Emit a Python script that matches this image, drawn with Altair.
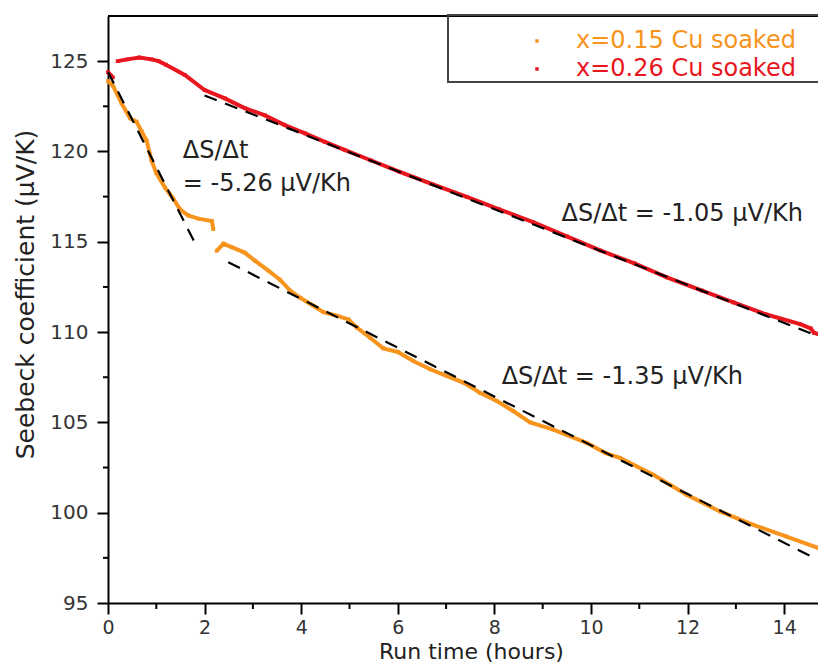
import altair as alt
import pandas as pd

# ---------------- data ----------------
series_names = ["x=0.15 Cu soaked", "x=0.26 Cu soaked"]
series_colors = ["#F7941D", "#E8161E"]

# x=0.15 Cu soaked (orange), two segments (gap near 2.2 h)
orange_t = [0.0, 0.11, 0.28, 0.46, 0.59, 0.70, 0.80, 0.90, 1.00, 1.18, 1.35, 1.49, 1.66, 1.87, 2.15, 2.18,
            2.25, 2.39, 2.56, 2.83, 3.04, 3.32, 3.56, 3.77, 3.98, 4.25, 4.46, 4.75, 4.98, 5.15, 5.42, 5.70,
            6.00, 6.32, 6.67, 7.01, 7.36, 7.70, 8.05, 8.39, 8.74, 9.22, 9.91, 10.30, 10.60, 11.29, 11.98,
            12.67, 13.36, 14.05, 14.70]
orange_s = [123.9, 123.6, 122.67, 121.83, 121.65, 121.1, 120.6, 119.5, 118.8, 118.0, 117.4, 116.8, 116.46,
            116.28, 116.15, 115.7,
            114.5, 114.9, 114.7, 114.4, 113.96, 113.4, 112.9, 112.3, 111.9, 111.46, 111.1, 110.9, 110.7,
            110.26, 109.7, 109.1, 108.9, 108.4, 107.94, 107.57, 107.2, 106.64, 106.18, 105.63, 105.0,
            104.6, 103.87, 103.3, 103.03, 102.1, 101.0, 100.07, 99.33, 98.68, 98.05]
orange_seg = [1] * 16 + [2] * 35

# x=0.26 Cu soaked (red), two segments (jump right after start)
red_t = [0.0, 0.1,
         0.2, 0.4, 0.65, 0.9, 1.05, 1.2, 1.59, 2.0, 2.42, 2.84, 3.25, 3.66, 4.08, 4.49, 4.91, 5.45, 6.04,
         6.7, 7.43, 8.1, 8.8, 9.5, 10.19, 10.9, 11.57, 12.3, 12.95, 13.6, 14.33, 14.55, 14.62, 14.7]
red_s = [124.4, 124.1,
         125.0, 125.1, 125.2, 125.1, 125.0, 124.8, 124.24, 123.4, 122.94, 122.39, 122.0, 121.46, 121.0,
         120.53, 120.07, 119.5, 118.87, 118.2, 117.48, 116.8, 116.09, 115.3, 114.52, 113.8, 113.03, 112.3,
         111.64, 111.0, 110.44, 110.2, 109.95, 109.9]
red_seg = [1] * 2 + [2] * 32

# linear fits (end points of dashed lines)
fit_id = ["o1", "o1", "o2", "o2", "r1", "r1"]
fit_t = [0.0, 1.85, 2.49, 14.55, 2.0, 14.7]
fit_s = [124.4, 114.67, 113.87, 97.59, 123.1, 109.77]

# annotations
ann_text = ["ΔS/Δt", "= -5.26 μV/Kh", "ΔS/Δt = -1.05 μV/Kh", "ΔS/Δt = -1.35 μV/Kh"]
ann_t = [1.55, 1.55, 9.39, 8.15]
ann_s = [119.66, 117.82, 116.14, 107.11]

x_major = [0, 2, 4, 6, 8, 10, 12, 14]
x_minor = [1, 3, 5, 7, 9, 11, 13]
y_major = [95, 100, 105, 110, 115, 120, 125]
y_minor = [97.5, 102.5, 107.5, 112.5, 117.5, 122.5]

# ---------------- tables ----------------
df = pd.concat([
    pd.DataFrame({"t": orange_t, "S": orange_s, "seg": [f"o{s}" for s in orange_seg],
                  "series": series_names[0]}),
    pd.DataFrame({"t": red_t, "S": red_s, "seg": [f"r{s}" for s in red_seg],
                  "series": series_names[1]}),
], ignore_index=True)
fits = pd.DataFrame({"id": fit_id, "t": fit_t, "S": fit_s})
ann = pd.DataFrame({"text": ann_text, "t": ann_t, "S": ann_s})
xmin_df = pd.DataFrame({"v": x_minor})
ymin_df = pd.DataFrame({"v": y_minor})

FONT = "DejaVu Sans"
W, H = 710, 587
xs = alt.Scale(domain=[0, 14.7], nice=False, zero=False)
ys = alt.Scale(domain=[95, 127.5], nice=False, zero=False)
cs = alt.Scale(domain=series_names, range=series_colors)

x_axis = alt.Axis(values=x_major, title="Run time (hours)", labelPadding=4, labelFlush=False,
                  labelFontSize=19,
                  titleX=363, titleY=55, titleBaseline="alphabetic", titleAlign="center",
                  titleFontSize=22)
y_axis = alt.Axis(values=y_major, title="Seebeck coefficient (μV/K)", labelPadding=9,
                  titleX=-75, titleY=278, titleAngle=-90, titleBaseline="alphabetic",
                  titleAlign="center", titleFontSize=25)

label_expr = ("datum.label == '" + series_names[0] + "' ? '" + series_colors[0] + "' : '"
              + series_colors[1] + "'")
legend = alt.Legend(
    orient="none", legendX=417, legendY=13, title=None, symbolType="square",
    symbolSize=12, symbolStrokeWidth=0, labelFontSize=24, labelFont=FONT, labelLimit=500,
    labelOffset=27, rowPadding=4, padding=0,
    labelColor=alt.ExprRef(expr=label_expr))

X = alt.X("t:Q", scale=xs, axis=x_axis)
Y = alt.Y("S:Q", scale=ys, axis=y_axis)

lines = alt.Chart(df).mark_line(strokeWidth=4).encode(
    x=X, y=Y,
    color=alt.Color("series:N", scale=cs, legend=legend),
    detail="seg:N",
    order="t:Q",
)

points = alt.Chart(df).mark_square(size=14, opacity=1).encode(
    x=X, y=Y,
    color=alt.Color("series:N", scale=cs, legend=legend),
)

fit_lines = alt.Chart(fits).mark_line(color="black", strokeWidth=2.2, strokeDash=[13, 9]).encode(
    x=X, y=Y, detail="id:N",
)

texts = alt.Chart(ann).mark_text(align="left", baseline="alphabetic", fontSize=24, font=FONT,
                                 color="#222222").encode(
    x=X, y=Y, text="text:N",
)

x_minor_ticks = alt.Chart(xmin_df).mark_rule(color="black", strokeWidth=2).encode(
    x=alt.X("v:Q", scale=xs, axis=x_axis),
    y=alt.value(H), y2=alt.value(H + 6),
)
y_minor_ticks = alt.Chart(ymin_df).mark_rule(color="black", strokeWidth=2).encode(
    y=alt.Y("v:Q", scale=ys, axis=y_axis),
    x=alt.value(-5), x2=alt.value(0),
)

top_border = alt.Chart(xmin_df).mark_rule(color="black", strokeWidth=2).encode(
    x=alt.value(0), x2=alt.value(W), y=alt.value(0),
)
legend_box = alt.Chart(xmin_df).mark_rect(fillOpacity=0, stroke="#444444", strokeWidth=1.5).encode(
    x=alt.value(340), x2=alt.value(760), y=alt.value(-1), y2=alt.value(66),
)

chart = alt.layer(
    lines, points, fit_lines, texts, x_minor_ticks, y_minor_ticks, top_border, legend_box
).properties(
    width=W, height=H, autosize="none",
    padding={"left": 100, "top": 8, "right": 0, "bottom": 59},
).configure_view(stroke=None).configure_axis(
    grid=False, domainColor="black", domainWidth=2, tickColor="black", tickWidth=2, tickSize=11,
    labelColor="#333333", labelFontSize=20, labelFont=FONT,
    titleFont=FONT, titleFontSize=24, titleFontWeight="normal", titleColor="#222222",
)

chart.save("out.html", embed_options={"renderer": "svg", "actions": False})
